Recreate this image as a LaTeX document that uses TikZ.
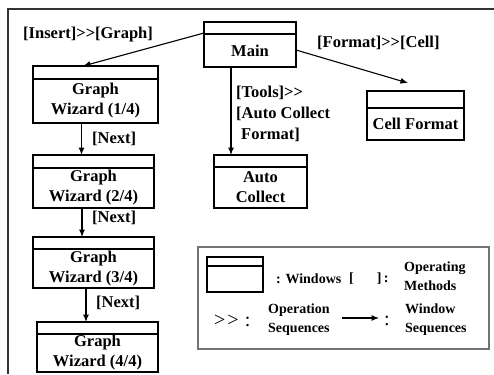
\documentclass[tikz,border=0pt]{standalone}
\usepackage{fontspec}
\setmainfont{Liberation Serif}
\usetikzlibrary{arrows.meta,calc}

\tikzset{
  winframe/.style={draw, line width=1.1pt, inner sep=0pt, outer sep=0pt},
  winline/.style={line width=1.1pt},
  wintext/.style={align=center, inner sep=0pt, font=\fontsize{16.5}{20}\selectfont\bfseries},
  lbl/.style={align=left, inner sep=0pt, anchor=west, font=\fontsize{16.5}{21}\selectfont\bfseries},
  keytext/.style={align=left, inner sep=0pt, anchor=west, font=\fontsize{14}{19}\selectfont\bfseries},
  keysym/.style={inner sep=0pt, anchor=west, font=\fontsize{20}{20}\selectfont},
  arr/.style={line width=1.1pt, -{Latex[length=7.5pt,width=6pt]}},
}

% window: name, x1, y1, x2, y2, title bar height, caption
\newcommand\drawwindow[7]{%
  \pgfmathsetmacro\wx{(#2+#4)/2}\pgfmathsetmacro\wy{(#3+#5)/2}%
  \pgfmathsetmacro\ww{#4-#2}\pgfmathsetmacro\wh{#5-#3}%
  \pgfmathsetmacro\ty{(#3+#6+#5)/2}%
  \node[winframe, minimum width=\ww pt, minimum height=\wh pt] (#1) at (\wx,\wy) {};
  \draw[winline] ([yshift=-#6pt]#1.north west) -- ([yshift=-#6pt]#1.north east);
  \node[wintext] (#1-t) at (\wx,\ty) {#7};
}

\begin{document}
\begin{tikzpicture}[x=1pt, y=-1pt]
\useasboundingbox (0,0) rectangle (494,374);

% outer frame (left and top edges)
\draw[line width=1.4pt, black!80] (8,374) -- (8,9) -- (494,9);

% windows
\drawwindow{main}{204}{22}{296}{67}{12}{Main}
\drawwindow{gwa}{33}{66}{158}{123}{13}{Graph\\Wizard (1/4)}
\drawwindow{gwb}{33}{155}{154}{208}{13}{Graph\\Wizard (2/4)}
\drawwindow{gwc}{33}{237}{154}{288}{12}{Graph\\Wizard (3/4)}
\drawwindow{gwd}{37}{322}{158}{372}{12}{Graph\\Wizard (4/4)}
\drawwindow{cell}{367}{91}{464}{140}{17}{Cell Format}
\drawwindow{auto}{214}{155}{307}{208}{12}{Auto\\Collect}

% window sequences
\coordinate (cellin) at (408,83);
\draw[arr] ([yshift=-11pt]main.north west) -- ([xshift=-12.5pt]gwa.north);
\draw[arr] ([yshift=-28pt]main.north east) -- (cellin);
\draw[arr] ([xshift=27pt]main.south west) -- ([xshift=17pt]auto.north west);
\draw[arr] ([xshift=48.5pt]gwa.south west) -- ([xshift=48.5pt]gwb.north west);
\draw[arr] ([xshift=49pt]gwb.south west) -- ([xshift=49pt]gwc.north west);
\draw[arr] ([xshift=53pt]gwc.south west) -- ([xshift=49pt]gwd.north west);

% operation labels
\node[lbl] (lins) at (23,35) {[Insert]>{}>[Graph]};
\node[lbl] (lfmt) at (317,43) {[Format]>{}>[Cell]};
\node[lbl] (ltools) at (236,114) {[Tools]>{}>\\{[}Auto Collect\\\hspace*{5pt}Format]};
\node[lbl] (lnexta) at (92,139) {[Next]};
\node[lbl] (lnextb) at (92,218) {[Next]};
\node[lbl] (lnextc) at (96,303) {[Next]};

% key
\node[draw=black!55, line width=1.4pt, inner sep=0pt, outer sep=0pt,
      minimum width=291pt, minimum height=102pt] (key) at (343.5,298) {};
\drawwindow{keywin}{207}{257}{263}{292}{9}{}
\node[keytext] (kwin) at (276,279) {: Windows};
\node[keytext] (kbr) at (349,279) {[\hspace{23pt}]\,:};
\node[keytext] (kop) at (404,276) {Operating\\Methods};
\node[keysym] (kseq) at (214,321) {>\kern2pt>\kern6pt:};
\node[keytext] (kos) at (268,320) {Operation\\Sequences};
\coordinate (kaa) at (342,318);
\coordinate (kab) at (379,318);
\draw[arr] (kaa) -- (kab);
\node[keysym] (kcol) at (384,321) {:};
\node[keytext] (kws) at (405,320) {Window\\Sequences};
\end{tikzpicture}
\end{document}
